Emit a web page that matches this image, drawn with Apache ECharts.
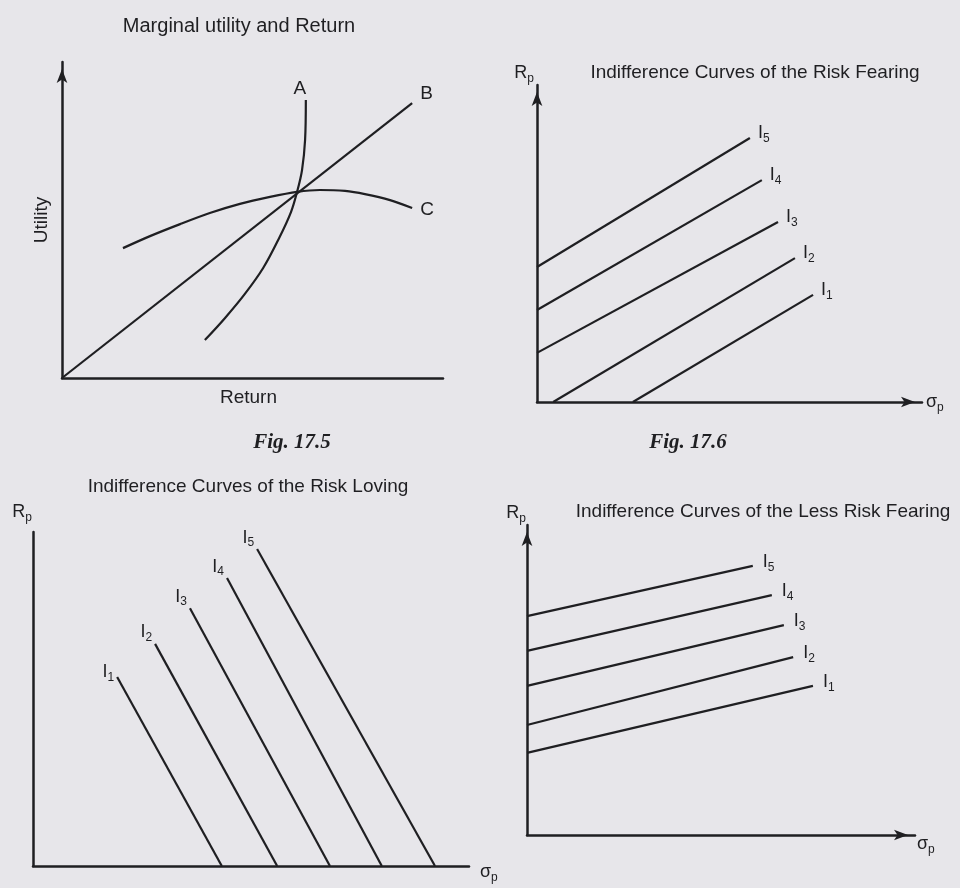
<!DOCTYPE html>
<html>
<head>
<meta charset="utf-8">
<title>Utility and indifference curves</title>
<script src="https://cdn.jsdelivr.net/npm/echarts@6/dist/echarts.min.js"></script>
<style>
  html, body { margin: 0; padding: 0; background: #e7e6ea; }
  #chart { width: 960px; height: 888px; }
</style>
</head>
<body>
<div id="chart"></div>
<script>
// all four panels use a 0..100 scale on both axes

// Fig. 17.5 - marginal utility and return
const curveA = [[37.5, 12.0], [42.8, 19.0], [48.0, 26.6], [52.8, 34.8], [57.0, 44.3], [60.1, 52.5], [61.7, 58.9], [63.0, 65.8], [63.8, 75.3], [64.0, 88.0]];
const lineB = [[0, 0], [91.9, 87.0]];
const curveC = [[16.0, 41.1], [23.1, 44.9], [31.0, 48.7], [38.8, 52.2], [46.7, 55.1], [54.6, 57.3], [61.7, 58.9], [67.7, 59.5], [74.3, 59.2], [79.5, 58.2], [86.1, 56.3], [91.9, 53.8]];

// Fig. 17.6 - risk fearing (I1 .. I5)
const fearingLines = [
  [[24.9, 0], [71.7, 33.8]],
  [[4.2, 0], [67.0, 45.4]],
  [[0, 15.5], [62.6, 56.8]],
  [[0, 29.0], [58.4, 70.0]],
  [[0, 42.6], [55.3, 83.3]]
];

// risk loving (I1 .. I5), listed bottom end first so the label sits on the top end
const lovingLines = [
  [[43.3, 0], [19.3, 56.6]],
  [[56.0, 0], [28.0, 66.5]],
  [[68.1, 0], [36.0, 77.2]],
  [[80.0, 0], [44.5, 86.2]],
  [[92.2, 0], [51.4, 94.9]]
];

// less risk fearing (I1 .. I5)
const lessFearingLines = [
  [[0, 26.5], [73.7, 48.1]],
  [[0, 35.5], [68.6, 57.4]],
  [[0, 48.1], [66.2, 67.7]],
  [[0, 59.4], [63.1, 77.4]],
  [[0, 70.6], [58.2, 86.8]]
];

const curveSubs = ['1', '2', '3', '4', '5'];

const ink = '#1f1f22';
const sans = 'Liberation Sans';

const chart = echarts.init(document.getElementById('chart'));

const subRich = {
  b: { fontSize: 18, fontFamily: sans, color: ink },
  s: { fontSize: 12, fontFamily: sans, color: ink, padding: [11, 0, 0, 0] }
};

function axis(gridIndex, arrow, extra, nameStyle) {
  return Object.assign({
    type: 'value',
    gridIndex: gridIndex,
    min: 0,
    max: 100,
    axisLine: {
      show: true,
      onZero: false,
      symbol: arrow ? ['none', 'arrow'] : 'none',
      symbolSize: [8, 14],
      symbolOffset: [0, -7],
      lineStyle: { color: ink, width: 2.5 }
    },
    axisTick: { show: false },
    axisLabel: { show: false },
    splitLine: { show: false },
    nameTextStyle: Object.assign({ color: ink, fontSize: 19, fontFamily: sans, rich: subRich }, nameStyle)
  }, extra);
}

function curve(gi, data, label, smooth) {
  return {
    type: 'line',
    xAxisIndex: gi,
    yAxisIndex: gi,
    data: data,
    smooth: smooth || false,
    showSymbol: false,
    silent: true,
    lineStyle: { color: ink, width: 2.2 },
    endLabel: Object.assign({ show: true, color: ink, fontSize: 19, fontFamily: sans, rich: subRich }, label)
  };
}

const series = [
  curve(0, curveA, { formatter: 'A', align: 'center', verticalAlign: 'bottom', distance: 0, offset: [-6, -2] }, 0.35),
  curve(0, lineB, { formatter: 'B', distance: 8, offset: [0, -9] }),
  curve(0, curveC, { formatter: 'C', distance: 8, offset: [0, 2] }, 0.3)
];

fearingLines.forEach(function (d, i) {
  series.push(curve(1, d, { formatter: '{b|I}{s|' + curveSubs[i] + '}', distance: 8, offset: [0, -5] }));
});
lovingLines.forEach(function (d, i) {
  series.push(curve(2, d, {
    formatter: '{b|I}{s|' + curveSubs[i] + '}',
    align: 'right', verticalAlign: 'bottom', distance: 0,
    offset: i === 0 ? [-3, 7] : [-3, 0]
  }));
});
lessFearingLines.forEach(function (d, i) {
  series.push(curve(3, d, { formatter: '{b|I}{s|' + curveSubs[i] + '}', distance: 10, offset: [0, -4] }));
});

function caption(text, x, y, serif, size) {
  return {
    type: 'text',
    x: x,
    y: y,
    style: {
      text: text,
      fill: ink,
      align: 'center',
      verticalAlign: 'middle',
      fontSize: size || (serif ? 21 : 19),
      fontFamily: serif ? 'Liberation Serif' : sans,
      fontWeight: serif ? 'bold' : 'normal',
      fontStyle: serif ? 'italic' : 'normal'
    }
  };
}

const rightName = { align: 'right', verticalAlign: 'bottom', padding: [0, 3, 0, 0] };

chart.setOption({
  backgroundColor: '#e7e6ea',
  animation: false,
  grid: [
    { left: 62, top: 62, width: 381, height: 316 },
    { left: 537, top: 85, width: 385, height: 317 },
    { left: 33, top: 532, width: 436, height: 334 },
    { left: 527, top: 525, width: 388, height: 310 }
  ],
  xAxis: [
    axis(0, false, { name: 'Return', nameLocation: 'middle', nameGap: 10 }, { padding: [0, 8, 0, 0] }),
    axis(1, true, { name: '{b|σ}{s|p}', nameLocation: 'end', nameGap: 4 }),
    axis(2, false, { name: '{b|σ}{s|p}', nameLocation: 'end', nameGap: 11 }, { padding: [12, 0, 0, 0] }),
    axis(3, true, { name: '{b|σ}{s|p}', nameLocation: 'end', nameGap: 2 }, { padding: [18, 0, 0, 0] })
  ],
  yAxis: [
    axis(0, true, { name: 'Utility', nameLocation: 'middle', nameGap: 11 }),
    axis(1, true, { name: '{b|R}{s|p}', nameLocation: 'end', nameGap: 0 }, rightName),
    axis(2, false, { name: '{b|R}{s|p}', nameLocation: 'end', nameGap: 8 }, { align: 'right', verticalAlign: 'bottom', padding: [0, 1, 0, 0] }),
    axis(3, true, { name: '{b|R}{s|p}', nameLocation: 'end', nameGap: 0 }, { align: 'right', verticalAlign: 'bottom', padding: [0, 1, 0, 0] })
  ],
  graphic: [
    caption('Marginal utility and Return', 239, 26, false, 20),
    caption('Indifference Curves of the Risk Fearing', 755, 73),
    caption('Indifference Curves of the Risk Loving', 248, 487),
    caption('Indifference Curves of the Less Risk Fearing', 763, 512),
    caption('Fig. 17.5', 292, 443, true),
    caption('Fig. 17.6', 688, 443, true)
  ],
  series: series
});
</script>
</body>
</html>
